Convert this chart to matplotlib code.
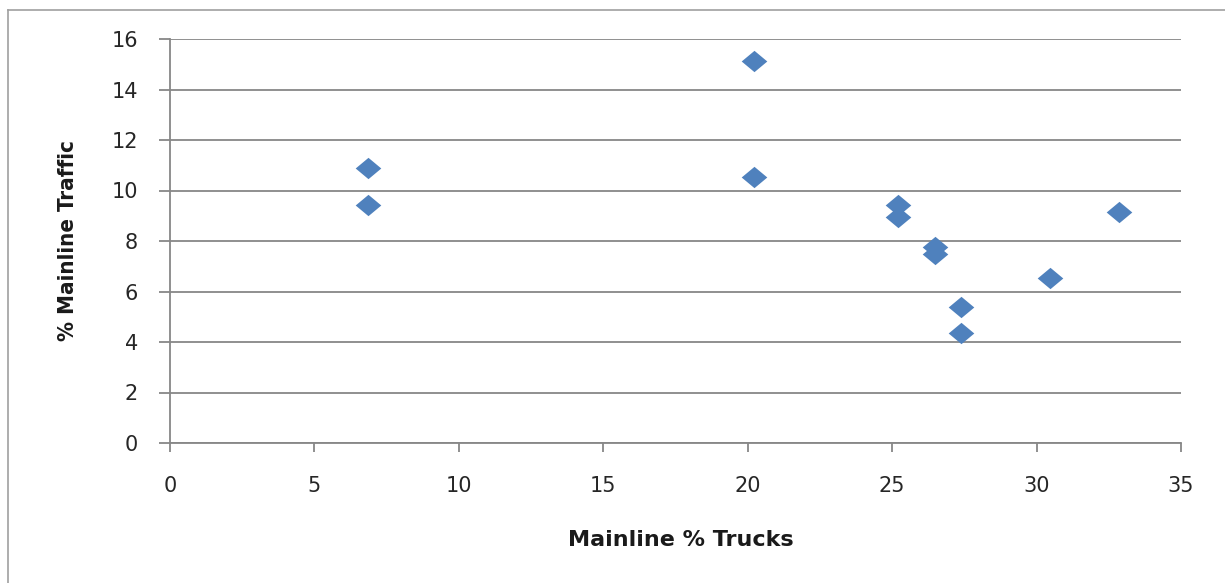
import matplotlib.pyplot as plt
from matplotlib.lines import Line2D

# mainline % trucks vs % mainline traffic
trucks = [6.87, 6.87, 20.22, 20.22, 25.2, 25.2, 26.5, 26.5, 27.4, 27.4, 30.45, 32.85]
traffic = [10.9, 9.42, 15.12, 10.54, 9.41, 8.94, 7.78, 7.47, 5.4, 4.35, 6.55, 9.16]

x_ticks = [0, 5, 10, 15, 20, 25, 30, 35]
y_ticks = [0, 2, 4, 6, 8, 10, 12, 14, 16]

grey = '#878787'
# excel style diamond, a bit wider than tall
diamond = [(-1.2, 0), (0, 1), (1.2, 0), (0, -1), (-1.2, 0)]

fig = plt.figure(figsize=(12.25, 5.83), dpi=100)
ax = fig.add_axes([170 / 1225, 1 - 443 / 583, (1181 - 170) / 1225, (443 - 39) / 583])

ax.scatter(trucks, traffic, marker=diamond, s=340, color='#4F81BD', zorder=3, linewidths=0)

ax.set_xlim(0, 35)
ax.set_ylim(0, 16)
ax.set_xticks(x_ticks)
ax.set_yticks(y_ticks)
ax.grid(axis='y', color=grey, linewidth=1.3)
ax.set_axisbelow(True)

for side in ['top', 'right']:
    ax.spines[side].set_visible(False)
for side in ['left', 'bottom']:
    ax.spines[side].set_color(grey)
    ax.spines[side].set_linewidth(1.3)

ax.tick_params(axis='x', length=6.5, width=1.3, color=grey, pad=17, labelsize=15, labelcolor='#262626')
ax.tick_params(axis='y', length=8, width=1.3, color=grey, pad=15, labelsize=15, labelcolor='#262626')

fig.text(681 / 1225, 1 - 540 / 583, 'Mainline % Trucks', ha='center', va='center',
         fontsize=16, fontweight='bold', color='#1a1a1a')
fig.text(68 / 1225, 1 - 241 / 583, '% Mainline Traffic', ha='center', va='center',
         rotation=90, fontsize=16, fontweight='bold', fontstretch='condensed', color='#1a1a1a')

# chart area outline (only top and left visible in the crop)
fig.add_artist(Line2D([8 / 1225, 8 / 1225], [0, 1 - 10 / 583], color='#a0a0a0', linewidth=1.2))
fig.add_artist(Line2D([8 / 1225, 1], [1 - 10 / 583, 1 - 10 / 583], color='#a0a0a0', linewidth=1.2))

fig.savefig('out.png', dpi=100)
